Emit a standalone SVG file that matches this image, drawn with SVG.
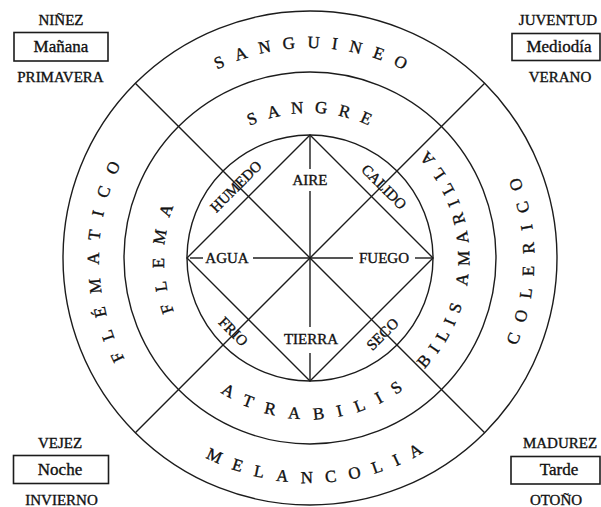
<svg xmlns="http://www.w3.org/2000/svg" width="601" height="507" viewBox="0 0 601 507">
<style>
  .ln { fill: none; stroke: #1c1c1c; stroke-width: 1.4; }
  .box { fill: none; stroke: #1c1c1c; stroke-width: 1.6; }
  .t { font-family: "Liberation Serif", "Times New Roman", serif; fill: #111; stroke: #111; stroke-width: 0.35; }
  .corner { font-size: 15px; text-anchor: middle; }
  .boxt { font-size: 17px; text-anchor: middle; }
  .ring { font-size: 17px; }
  .el { font-size: 15px; text-anchor: middle; }
</style>
<defs>
  <path id="p-sanguineo" d="M217.1,69.67 A210,210 0 0 1 415,76.13"/>
  <path id="p-sangre" d="M249.64,126.17 A145,145 0 0 1 382.5,132.43"/>
  <path id="p-flematico" d="M124.64,358.79 A211,211 0 0 1 137.15,136.97"/>
  <path id="p-flema" d="M174.18,311.55 A146,146 0 0 1 190.4,174.25"/>
  <path id="p-colerico" d="M516.45,345.7 A224.3,224.3 0 0 0 454.18,86.19"/>
  <path id="p-bilis" d="M424.39,368.86 A159.3,159.3 0 0 0 389.65,120.04"/>
  <path id="p-atrabilis" d="M220.67,392.31 A161.3,161.3 0 0 0 424.06,372.06"/>
  <path id="p-melancolia" d="M205.64,457.35 A225,225 0 0 0 454.6,430.4"/>
</defs>

<g id="circles">
  <circle class="ln" cx="310" cy="258" r="247"/>
  <circle class="ln" cx="310" cy="258" r="186"/>
  <circle class="ln" cx="310" cy="258" r="123"/>
</g>

<g id="connectors">
  <line class="ln" x1="135.34" y1="83.34" x2="484.66" y2="432.66"/>
  <line class="ln" x1="484.66" y1="83.34" x2="135.34" y2="432.66"/>
  <polygon class="ln" points="310,135 433,258 310,381 187,258"/>
  <line class="ln" x1="310" y1="135" x2="310" y2="169"/>
  <line class="ln" x1="310" y1="191" x2="310" y2="258"/>
  <line class="ln" x1="310" y1="258" x2="310" y2="327"/>
  <line class="ln" x1="310" y1="353" x2="310" y2="381"/>
  <line class="ln" x1="190" y1="258" x2="203" y2="258"/>
  <line class="ln" x1="253" y1="258" x2="310" y2="258"/>
  <line class="ln" x1="310" y1="258" x2="353" y2="258"/>
  <line class="ln" x1="415" y1="258" x2="433" y2="258"/>
</g>

<g id="sanguineo"><text class="t ring" letter-spacing="11.75"><textPath href="#p-sanguineo">SANGUINEO</textPath></text></g>
<g id="sangre"><text class="t ring" letter-spacing="10.9"><textPath href="#p-sangre">SANGRE</textPath></text></g>
<g id="flematico"><text class="t ring" letter-spacing="13.25"><textPath href="#p-flematico">FLÉMATICO</textPath></text></g>
<g id="flema"><text class="t ring" letter-spacing="12.4"><textPath href="#p-flema">FLEMA</textPath></text></g>
<g id="colerico"><text class="t ring" letter-spacing="12.6"><textPath href="#p-colerico">COLERICO</textPath></text></g>
<g id="bilis-amarilla"><text class="t ring" letter-spacing="8.08"><textPath href="#p-bilis">BILIS AMARILLA</textPath></text></g>
<g id="atrabilis"><text class="t ring" letter-spacing="13.4"><textPath href="#p-atrabilis">ATRABILIS</textPath></text></g>
<g id="melancolia"><text class="t ring" letter-spacing="12.75"><textPath href="#p-melancolia">MELANCOLIA</textPath></text></g>

<g id="aire"><text class="t el" x="310" y="185">AIRE</text></g>
<g id="tierra"><text class="t el" x="311" y="343.5">TIERRA</text></g>
<g id="agua"><text class="t el" x="227" y="263">AGUA</text></g>
<g id="fuego"><text class="t el" x="384" y="263">FUEGO</text></g>
<g id="humedo"><text class="t el" transform="translate(239.5,190) rotate(-45)">HUMEDO</text></g>
<g id="calido"><text class="t el" transform="translate(380.5,190.5) rotate(45)">CALIDO</text></g>
<g id="frio"><text class="t el" transform="translate(229.8,335.2) rotate(45)">FRIO</text></g>
<g id="seco"><text class="t el" transform="translate(386,337.7) rotate(-45)">SECO</text></g>

<g id="ninez">
  <text class="t corner" x="61" y="25">NIÑEZ</text>
  <rect class="box" x="14" y="32.5" width="94" height="28.5"/>
  <text class="t boxt" x="61" y="52">Mañana</text>
  <text class="t corner" x="60.5" y="82">PRIMAVERA</text>
</g>
<g id="juventud">
  <text class="t corner" x="558" y="25">JUVENTUD</text>
  <rect class="box" x="512" y="33.5" width="88" height="27"/>
  <text class="t boxt" x="559" y="52">Mediodía</text>
  <text class="t corner" x="560" y="82">VERANO</text>
</g>
<g id="vejez">
  <text class="t corner" x="60" y="448">VEJEZ</text>
  <rect class="box" x="13.5" y="455.5" width="95" height="28"/>
  <text class="t boxt" x="60" y="475">Noche</text>
  <text class="t corner" x="61.5" y="505">INVIERNO</text>
</g>
<g id="madurez">
  <text class="t corner" x="560" y="448">MADUREZ</text>
  <rect class="box" x="511" y="456.5" width="89" height="27.5"/>
  <text class="t boxt" x="559" y="475">Tarde</text>
  <text class="t corner" x="556" y="505">OTOÑO</text>
</g>
</svg>
